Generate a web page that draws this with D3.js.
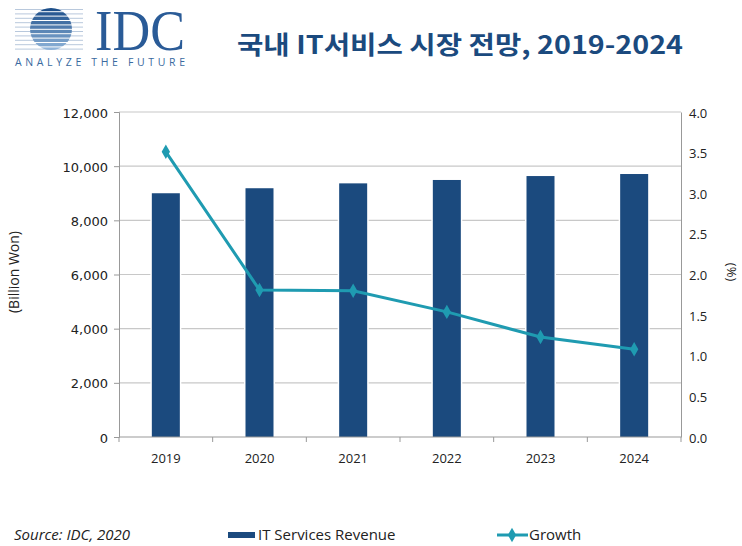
<!DOCTYPE html>
<meta charset="utf-8">
<style>
body { margin: 0; background: #fff; }
text { font-family: "Open Sans", "Noto Sans", sans-serif; fill: #222; }
</style>
<body>
<script src="https://d3js.org/d3.v7.min.js"></script>
<script>

var years = ["2019", "2020", "2021", "2022", "2023", "2024"];
var revenue = [9000, 9185, 9365, 9490, 9635, 9710];
var growth = [3.51, 1.81, 1.80, 1.54, 1.23, 1.08];
var leftTicks = [0, 2000, 4000, 6000, 8000, 10000, 12000];
var rightTicks = [0, 0.5, 1, 1.5, 2, 2.5, 3, 3.5, 4];

var width = 742, height = 546;
var margin = {top: 112, right: 61, bottom: 109, left: 119};
var innerWidth = width - margin.left - margin.right;
var innerHeight = height - margin.top - margin.bottom;

var barColor = "#1b4a7e";
var lineColor = "#1f9bb1";

var svg = d3.select("body").append("svg")
    .attr("width", width)
    .attr("height", height);

// logo
var logo = svg.append("g").attr("transform", "translate(12,8)");
logo.append("clipPath").attr("id", "globe")
  .append("circle").attr("cx", 39).attr("cy", 21).attr("r", 21);
var stripeY = d3.range(0, 10).map(i => 1.5 + i * 4.4);
logo.selectAll("line.bg")
  .data(stripeY)
  .enter().append("line")
    .attr("x1", 3).attr("x2", 71)
    .attr("y1", d => d).attr("y2", d => d)
    .attr("stroke", "#b8c8dc").attr("stroke-width", 1);
logo.append("g").attr("clip-path", "url(#globe)")
  .selectAll("rect")
  .data(stripeY)
  .enter().append("rect")
    .attr("x", 16).attr("width", 46)
    .attr("y", d => d - 1.7).attr("height", 3.4)
    .attr("fill", (d, i) => d3.interpolateRgb("#1d4f8a", "#8fb3d9")(i / 9));
logo.append("text")
  .attr("x", 83).attr("y", 42)
  .attr("textLength", 90)
  .attr("lengthAdjust", "spacingAndGlyphs")
  .style("font-family", "'Liberation Serif', 'DejaVu Serif', serif")
  .style("font-size", "56px")
  .style("fill", "#2a5b97")
  .text("IDC");
logo.append("text")
  .attr("x", 3).attr("y", 58)
  .attr("textLength", 170)
  .style("font-size", "10.5px")
  .style("fill", "#3a6aa0")
  .text("ANALYZE THE FUTURE");

// title
svg.append("text")
  .attr("x", 237).attr("y", 54)
  .attr("textLength", 446)
  .attr("lengthAdjust", "spacingAndGlyphs")
  .style("font-family", "'Noto Sans CJK KR', sans-serif")
  .style("font-weight", "bold")
  .style("font-size", "25px")
  .style("fill", "#1b4a7e")
  .text("국내 IT서비스 시장 전망, 2019-2024");

var g = svg.append("g")
    .attr("transform", `translate(${margin.left},${margin.top})`);

var xScale = d3.scaleBand()
    .domain(years)
    .range([0, innerWidth]);

var yScale = d3.scaleLinear()
    .domain([0, 12000])
    .range([innerHeight, 0]);

var yScale2 = d3.scaleLinear()
    .domain([0, 4])
    .range([innerHeight, 0]);

// gridlines
g.selectAll("line.grid")
  .data(leftTicks.slice(1))
  .enter().append("line")
    .attr("class", "grid")
    .attr("x1", 0).attr("x2", innerWidth)
    .attr("y1", d => yScale(d)).attr("y2", d => yScale(d))
    .attr("stroke", "#c8c8c8").attr("stroke-width", 1.2);

// bars
var barW = 28;
g.selectAll("rect.bar")
  .data(revenue)
  .enter().append("rect")
    .attr("class", "bar")
    .attr("x", (d, i) => xScale(years[i]) + xScale.bandwidth() / 2 - barW / 2)
    .attr("width", barW)
    .attr("y", d => yScale(d))
    .attr("height", d => innerHeight - yScale(d))
    .attr("fill", barColor)
    .attr("stroke", "#fff")
    .attr("stroke-width", 3)
    .attr("paint-order", "stroke");

// left axis
var yAxis = d3.axisLeft(yScale)
    .tickValues(leftTicks)
    .tickFormat(d3.format(","))
    .tickSize(5)
    .tickPadding(6);
var ya = g.append("g").call(yAxis);
ya.select(".domain").attr("stroke", "#999");
ya.selectAll(".tick line").attr("stroke", "#999");
ya.selectAll("text")
  .attr("dy", null).attr("y", 5)
  .style("font-size", "13px").style("fill", "#222")
  .style("font-family", "'DejaVu Sans', sans-serif");

// right axis
var yAxis2 = d3.axisRight(yScale2)
    .tickValues(rightTicks)
    .tickFormat(d3.format(".1f"))
    .tickSize(0)
    .tickPadding(8);
var ya2 = g.append("g")
    .attr("transform", `translate(${innerWidth},0)`)
    .call(yAxis2);
ya2.select(".domain").attr("stroke", "#999");
ya2.selectAll("text")
  .attr("dy", null).attr("y", 5)
  .style("font-size", "13px").style("fill", "#222")
  .style("font-family", "'Open Sans', sans-serif");

// bottom axis
var xa = g.append("g").attr("transform", `translate(0,${innerHeight})`);
xa.append("line")
  .attr("x1", 0).attr("x2", innerWidth)
  .attr("stroke", "#999");
xa.selectAll("line.tk")
  .data(years.concat(["end"]))
  .enter().append("line")
    .attr("class", "tk")
    .attr("x1", (d, i) => i * xScale.step()).attr("x2", (d, i) => i * xScale.step())
    .attr("y1", 0).attr("y2", 5)
    .attr("stroke", "#999");
xa.selectAll("text")
  .data(years)
  .enter().append("text")
    .attr("x", d => xScale(d) + xScale.bandwidth() / 2)
    .attr("y", 26)
    .attr("text-anchor", "middle")
    .style("font-size", "13px")
    .text(d => d);

// growth line
var line = d3.line()
    .x((d, i) => xScale(years[i]) + xScale.bandwidth() / 2)
    .y(d => yScale2(d));

g.append("path")
  .datum(growth)
  .attr("d", line)
  .attr("fill", "none")
  .attr("stroke", lineColor)
  .attr("stroke-width", 3);

var diamond = d3.symbol().type(d3.symbolDiamond).size(60);
g.selectAll("path.pt")
  .data(growth)
  .enter().append("path")
    .attr("class", "pt")
    .attr("d", diamond)
    .attr("transform", (d, i) => `translate(${xScale(years[i]) + xScale.bandwidth() / 2},${yScale2(d)})`)
    .attr("fill", lineColor);

// axis titles
svg.append("text")
  .attr("transform", "translate(19,272) rotate(-90)")
  .attr("text-anchor", "middle")
  .style("font-size", "14px")
  .text("(Billion Won)");

svg.append("text")
  .attr("transform", "translate(727,272) rotate(90)")
  .attr("text-anchor", "middle")
  .style("font-size", "13px")
  .text("(%)");

// footer
svg.append("text")
  .attr("x", 14).attr("y", 540)
  .style("font-size", "15px")
  .style("font-style", "italic")
  .text("Source: IDC, 2020");

svg.append("rect")
  .attr("x", 228).attr("y", 532)
  .attr("width", 27).attr("height", 6)
  .attr("fill", barColor);
svg.append("text")
  .attr("x", 258).attr("y", 540)
  .style("font-size", "15px")
  .text("IT Services Revenue");

svg.append("line")
  .attr("x1", 497).attr("x2", 528)
  .attr("y1", 535).attr("y2", 535)
  .attr("stroke", lineColor).attr("stroke-width", 3);
svg.append("path")
  .attr("d", diamond)
  .attr("transform", "translate(512,535)")
  .attr("fill", lineColor);
svg.append("text")
  .attr("x", 529).attr("y", 540)
  .style("font-size", "15px")
  .text("Growth");

</script>
</body>
